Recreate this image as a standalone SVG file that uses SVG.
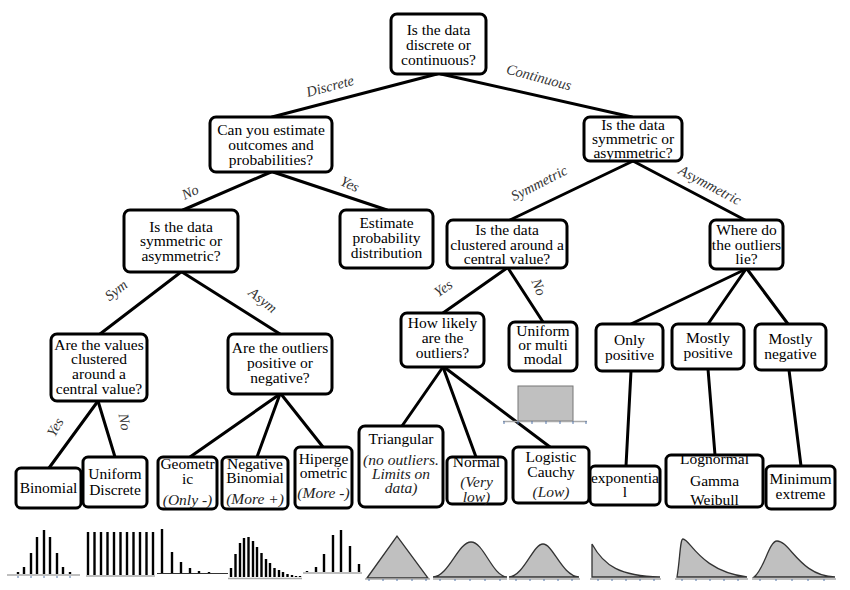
<svg xmlns="http://www.w3.org/2000/svg" width="850" height="590" viewBox="0 0 850 590" font-family="'Liberation Serif', 'DejaVu Serif', serif">
<style>
.box{fill:#fff;stroke:#000;stroke-width:3}
text{font-family:'Liberation Serif','DejaVu Serif',serif}
.t{font-size:15.5px;fill:#000;text-anchor:middle}
.i{font-style:italic;fill:#222}
.lab{font-size:14.5px;font-style:italic;fill:#333;text-anchor:middle}
.con line{stroke:#000;stroke-width:3;stroke-linecap:round}
.bar line{stroke:#000;stroke-width:2.4}
.axis{stroke:#aaa;stroke-width:1.5;fill:none}
.tick{stroke:#5577aa;stroke-width:1}
.curve{fill:#c0c0c0;stroke:#333;stroke-width:1.3}
</style>
<rect width="850" height="590" fill="#fff"/>
<g class="con" id="connectors">
<line x1="437" y1="74" x2="272" y2="117"/>
<line x1="441" y1="74" x2="632" y2="117"/>
<line x1="271" y1="172" x2="183" y2="210"/>
<line x1="273" y1="172" x2="387" y2="210"/>
<line x1="633" y1="161" x2="510" y2="220"/>
<line x1="633" y1="161" x2="745" y2="220"/>
<line x1="181" y1="272" x2="100" y2="334"/>
<line x1="182" y1="272" x2="280" y2="334"/>
<line x1="507" y1="268" x2="443" y2="313"/>
<line x1="508" y1="268" x2="543" y2="322"/>
<line x1="746" y1="269" x2="631" y2="324"/>
<line x1="746" y1="269" x2="708" y2="324"/>
<line x1="747" y1="269" x2="788" y2="324"/>
<line x1="98" y1="401" x2="49" y2="468"/>
<line x1="98" y1="401" x2="115" y2="457"/>
<line x1="280" y1="394" x2="190" y2="457"/>
<line x1="280" y1="394" x2="257" y2="457"/>
<line x1="281" y1="394" x2="323" y2="447"/>
<line x1="443" y1="367" x2="402" y2="426"/>
<line x1="443" y1="367" x2="476" y2="457"/>
<line x1="444" y1="367" x2="550" y2="447"/>
<line x1="631" y1="371" x2="626" y2="466"/>
<line x1="708" y1="369" x2="715" y2="455"/>
<line x1="789" y1="370" x2="801" y2="466"/>
</g>
<g id="edge-labels">
<text class="lab" transform="translate(330,86) rotate(-15)" y="5">Discrete</text>
<text class="lab" transform="translate(539,77) rotate(15)" y="5">Continuous</text>
<text class="lab" transform="translate(190,192) rotate(-25)" y="5">No</text>
<text class="lab" transform="translate(350,184) rotate(25)" y="5">Yes</text>
<text class="lab" transform="translate(116,290) rotate(-38)" y="5">Sym</text>
<text class="lab" transform="translate(263,300) rotate(38)" y="5">Asym</text>
<text class="lab" transform="translate(539,183) rotate(-27)" y="5">Symmetric</text>
<text class="lab" transform="translate(710,185) rotate(28)" y="5">Asymmetric</text>
<text class="lab" transform="translate(443,288) rotate(-35)" y="5">Yes</text>
<text class="lab" transform="translate(539,287) rotate(68)" y="5">No</text>
<text class="lab" transform="translate(55,427) rotate(-60)" y="5">Yes</text>
<text class="lab" transform="translate(125,422) rotate(80)" y="5">No</text>
</g>
<g id="n-root"><rect class="box" x="391" y="14" width="95" height="60" rx="6"/>
<text class="t"><tspan x="438.5" y="35">Is the data</tspan><tspan x="438.5" y="50">discrete or</tspan><tspan x="438.5" y="65">continuous?</tspan></text></g>
<g id="n-estimate-q"><rect class="box" x="210" y="117" width="122" height="55" rx="6"/>
<text class="t"><tspan x="271" y="135">Can you estimate</tspan><tspan x="271" y="150">outcomes and</tspan><tspan x="271" y="165">probabilities?</tspan></text></g>
<g id="n-cont-sym"><rect class="box" x="584" y="117" width="98" height="44" rx="6"/>
<text class="t"><tspan x="633" y="130">Is the data</tspan><tspan x="633" y="144">symmetric or</tspan><tspan x="633" y="158">asymmetric?</tspan></text></g>
<g id="n-disc-sym"><rect class="box" x="124" y="210" width="114" height="62" rx="6"/>
<text class="t"><tspan x="181" y="232">Is the data</tspan><tspan x="181" y="246">symmetric or</tspan><tspan x="181" y="261">asymmetric?</tspan></text></g>
<g id="n-estimate"><rect class="box" x="340" y="210" width="93" height="58" rx="6"/>
<text class="t"><tspan x="386.5" y="228">Estimate</tspan><tspan x="386.5" y="243">probability</tspan><tspan x="386.5" y="258">distribution</tspan></text></g>
<g id="n-clustered"><rect class="box" x="447" y="220" width="120" height="48" rx="6"/>
<text class="t"><tspan x="507" y="235">Is the data</tspan><tspan x="507" y="250">clustered around a</tspan><tspan x="507" y="264">central  value?</tspan></text></g>
<g id="n-where"><rect class="box" x="710" y="220" width="73" height="49" rx="6"/>
<text class="t"><tspan x="746.5" y="235">Where do</tspan><tspan x="746.5" y="250">the outliers</tspan><tspan x="746.5" y="264">lie?</tspan></text></g>
<g id="n-values"><rect class="box" x="51" y="334" width="96" height="67" rx="6"/>
<text class="t"><tspan x="99" y="350">Are the values</tspan><tspan x="99" y="364">clustered</tspan><tspan x="99" y="379">around a</tspan><tspan x="99" y="394">central value?</tspan></text></g>
<g id="n-outliers"><rect class="box" x="228" y="334" width="104" height="60" rx="6"/>
<text class="t"><tspan x="280" y="353">Are the outliers</tspan><tspan x="280" y="368">positive or</tspan><tspan x="280" y="383">negative?</tspan></text></g>
<g id="n-how"><rect class="box" x="401" y="313" width="83" height="54" rx="6"/>
<text class="t"><tspan x="442.5" y="328">How likely</tspan><tspan x="442.5" y="343">are the</tspan><tspan x="442.5" y="358">outliers?</tspan></text></g>
<g id="n-uniform"><rect class="box" x="509" y="322" width="68" height="49" rx="6"/>
<text class="t"><tspan x="543" y="336">Uniform</tspan><tspan x="543" y="350">or multi</tspan><tspan x="543" y="364">modal</tspan></text></g>
<g id="n-onlypos"><rect class="box" x="596" y="324" width="67" height="47" rx="6"/>
<text class="t"><tspan x="629.5" y="345">Only</tspan><tspan x="629.5" y="360">positive</tspan></text></g>
<g id="n-mostpos"><rect class="box" x="672" y="324" width="72" height="45" rx="6"/>
<text class="t"><tspan x="708" y="343">Mostly</tspan><tspan x="708" y="358">positive</tspan></text></g>
<g id="n-mostneg"><rect class="box" x="755" y="324" width="71" height="46" rx="6"/>
<text class="t"><tspan x="790.5" y="344">Mostly</tspan><tspan x="790.5" y="359">negative</tspan></text></g>
<g id="n-binomial"><rect class="box" x="16" y="468" width="65" height="40" rx="5"/>
<text class="t" x="48.5" y="493">Binomial</text></g>
<g id="n-unidisc"><rect class="box" x="83" y="457" width="64" height="50" rx="5"/>
<text class="t"><tspan x="115" y="479">Uniform</tspan><tspan x="115" y="495">Discrete</tspan></text></g>
<g id="n-geometric"><rect class="box" x="158" y="457" width="59" height="52" rx="5"/>
<text class="t"><tspan x="187.5" y="469">Geometr</tspan><tspan x="187.5" y="484">ic</tspan><tspan class="i" x="187.5" y="505">(Only -)</tspan></text></g>
<g id="n-negbin"><rect class="box" x="222" y="457" width="66" height="52" rx="5"/>
<text class="t"><tspan x="255" y="469">Negative</tspan><tspan x="255" y="483">Binomial</tspan><tspan class="i" x="255" y="504">(More +)</tspan></text></g>
<g id="n-hyper"><rect class="box" x="295" y="447" width="57" height="61" rx="5"/>
<text class="t"><tspan x="323.5" y="464">Hiperge</tspan><tspan x="323.5" y="478">ometric</tspan><tspan class="i" x="323.5" y="498">(More -)</tspan></text></g>
<g id="n-triangular"><rect class="box" x="359" y="426" width="84" height="81" rx="6"/>
<text class="t"><tspan x="401" y="444">Triangular</tspan><tspan class="i" x="401" y="465">(no outliers.</tspan><tspan class="i" x="401" y="479">Limits on</tspan><tspan class="i" x="401" y="493">data)</tspan></text></g>
<g id="n-normal"><rect class="box" x="447" y="457" width="59" height="47" rx="5"/>
<text class="t"><tspan x="476.5" y="467">Normal</tspan><tspan class="i" x="476.5" y="487">(Very</tspan><tspan class="i" x="476.5" y="502">low)</tspan></text></g>
<g id="n-logistic"><rect class="box" x="513" y="447" width="76" height="56" rx="5"/>
<text class="t"><tspan x="551" y="462">Logistic</tspan><tspan x="551" y="477">Cauchy</tspan><tspan class="i" x="551" y="497">(Low)</tspan></text></g>
<g id="n-expo"><rect class="box" x="590" y="466" width="70" height="39" rx="5"/>
<text class="t"><tspan x="625" y="483">exponentia</tspan><tspan x="625" y="497">l</tspan></text></g>
<g id="n-lognormal"><rect class="box" x="666" y="455" width="97" height="52" rx="5"/>
<text class="t"><tspan x="714.5" y="464">Lognormal</tspan><tspan x="714.5" y="486">Gamma</tspan><tspan x="714.5" y="505">Weibull</tspan></text></g>
<g id="n-minext"><rect class="box" x="766" y="466" width="69" height="43" rx="5"/>
<text class="t"><tspan x="800.5" y="484">Minimum</tspan><tspan x="800.5" y="499">extreme</tspan></text></g>
<g id="chart-uniform">
<rect x="518" y="386" width="55" height="35" fill="#c0c0c0" stroke="#777" stroke-width="1"/>
<line class="axis" x1="503" y1="421.5" x2="587" y2="421.5"/>
<path class="tick" d="M504,421v3M518,421v3M532,421v3M546,421v3M560,421v3M573,421v3M586,421v3"/>
</g>
<g id="charts">
<g class="bar">
<line x1="18" y1="574" x2="18" y2="572"/><line x1="24" y1="574" x2="24" y2="567"/><line x1="31" y1="574" x2="31" y2="553"/><line x1="37" y1="574" x2="37" y2="537"/><line x1="44" y1="574" x2="44" y2="530"/><line x1="50" y1="574" x2="50" y2="537"/><line x1="57" y1="574" x2="57" y2="553"/><line x1="63" y1="574" x2="63" y2="567"/><line x1="70" y1="574" x2="70" y2="572"/>
</g>
<line class="axis" x1="7" y1="575" x2="80" y2="575"/>
<g class="bar" style="stroke-width:3">
<line x1="88" y1="575" x2="88" y2="532"/><line x1="94.5" y1="575" x2="94.5" y2="532"/><line x1="101" y1="575" x2="101" y2="532"/><line x1="107.5" y1="575" x2="107.5" y2="532"/><line x1="114" y1="575" x2="114" y2="532"/><line x1="120.5" y1="575" x2="120.5" y2="532"/><line x1="127" y1="575" x2="127" y2="532"/><line x1="133.5" y1="575" x2="133.5" y2="532"/><line x1="140" y1="575" x2="140" y2="532"/><line x1="146.5" y1="575" x2="146.5" y2="532"/><line x1="153" y1="575" x2="153" y2="532"/>
</g>
<line class="axis" x1="86" y1="576" x2="155" y2="576"/>
<g class="bar">
<line x1="162" y1="573" x2="162" y2="529"/><line x1="172" y1="573" x2="172" y2="552"/><line x1="181" y1="573" x2="181" y2="562"/><line x1="190" y1="573" x2="190" y2="568"/><line x1="199" y1="573" x2="199" y2="571"/><line x1="209" y1="573" x2="209" y2="572"/>
</g>
<line x1="157" y1="573.5" x2="228" y2="573.5" stroke="#333" stroke-width="1"/>
<g class="bar">
<line x1="231" y1="577" x2="231" y2="568"/><line x1="235.5" y1="577" x2="235.5" y2="554"/><line x1="240" y1="577" x2="240" y2="543"/><line x1="244" y1="577" x2="244" y2="538"/><line x1="248.5" y1="577" x2="248.5" y2="537"/><line x1="253" y1="577" x2="253" y2="541"/><line x1="257" y1="577" x2="257" y2="547"/><line x1="261.5" y1="577" x2="261.5" y2="553"/><line x1="266" y1="577" x2="266" y2="559"/><line x1="270" y1="577" x2="270" y2="563"/><line x1="274.5" y1="577" x2="274.5" y2="568"/><line x1="279" y1="577" x2="279" y2="570"/><line x1="283" y1="577" x2="283" y2="572"/><line x1="287.5" y1="577" x2="287.5" y2="574"/><line x1="292" y1="577" x2="292" y2="575"/><line x1="296" y1="577" x2="296" y2="576"/><line x1="300" y1="577" x2="300" y2="576"/>
</g>
<line class="axis" x1="228" y1="578.5" x2="302" y2="578.5"/>
<g class="bar">
<line x1="307" y1="572" x2="307" y2="571"/><line x1="316" y1="572" x2="316" y2="567"/><line x1="324" y1="572" x2="324" y2="554"/><line x1="333" y1="572" x2="333" y2="535"/><line x1="341" y1="572" x2="341" y2="530"/><line x1="350" y1="572" x2="350" y2="546"/><line x1="359" y1="572" x2="359" y2="564"/>
</g>
<line class="axis" x1="303" y1="573" x2="362" y2="573"/>
<path class="curve" d="M367,578 L397,536 L428,578 Z"/>
<path class="curve" d="M433,577 C449,576 458,542 471,542 C484,542 492,576 507,577 Z"/>
<path class="curve" d="M509,577 C524,576 533,544 543,544 C553,544 562,576 579,577 Z"/>
<path class="curve" d="M592,577 L592,544 C604,566 620,576 660,577 Z"/>
<path class="curve" d="M677,577 C680,560 680,539 683,539 C690,539 700,571 747,577 Z"/>
<path class="curve" d="M754,577 C764,570 769,541 777,541 C790,541 800,576 835,577 Z"/>
<path class="axis" d="M365,579H430M433,579H507M509,579H580M590,579H661M675,579H748M752,579H836"/>
<path class="tick" d="M18,576v2M31,576v2M44,576v2M57,576v2M70,576v2M369,579v2M383,579v2M397,579v2M412,579v2M426,579v2M440,579v2M455,579v2M470,579v2M485,579v2M500,579v2M516,579v2M530,579v2M544,579v2M558,579v2M572,579v2M598,579v2M612,579v2M626,579v2M640,579v2M654,579v2M682,579v2M696,579v2M710,579v2M724,579v2M738,579v2M760,579v2M776,579v2M792,579v2M808,579v2M824,579v2"/>
</g>
</svg>
